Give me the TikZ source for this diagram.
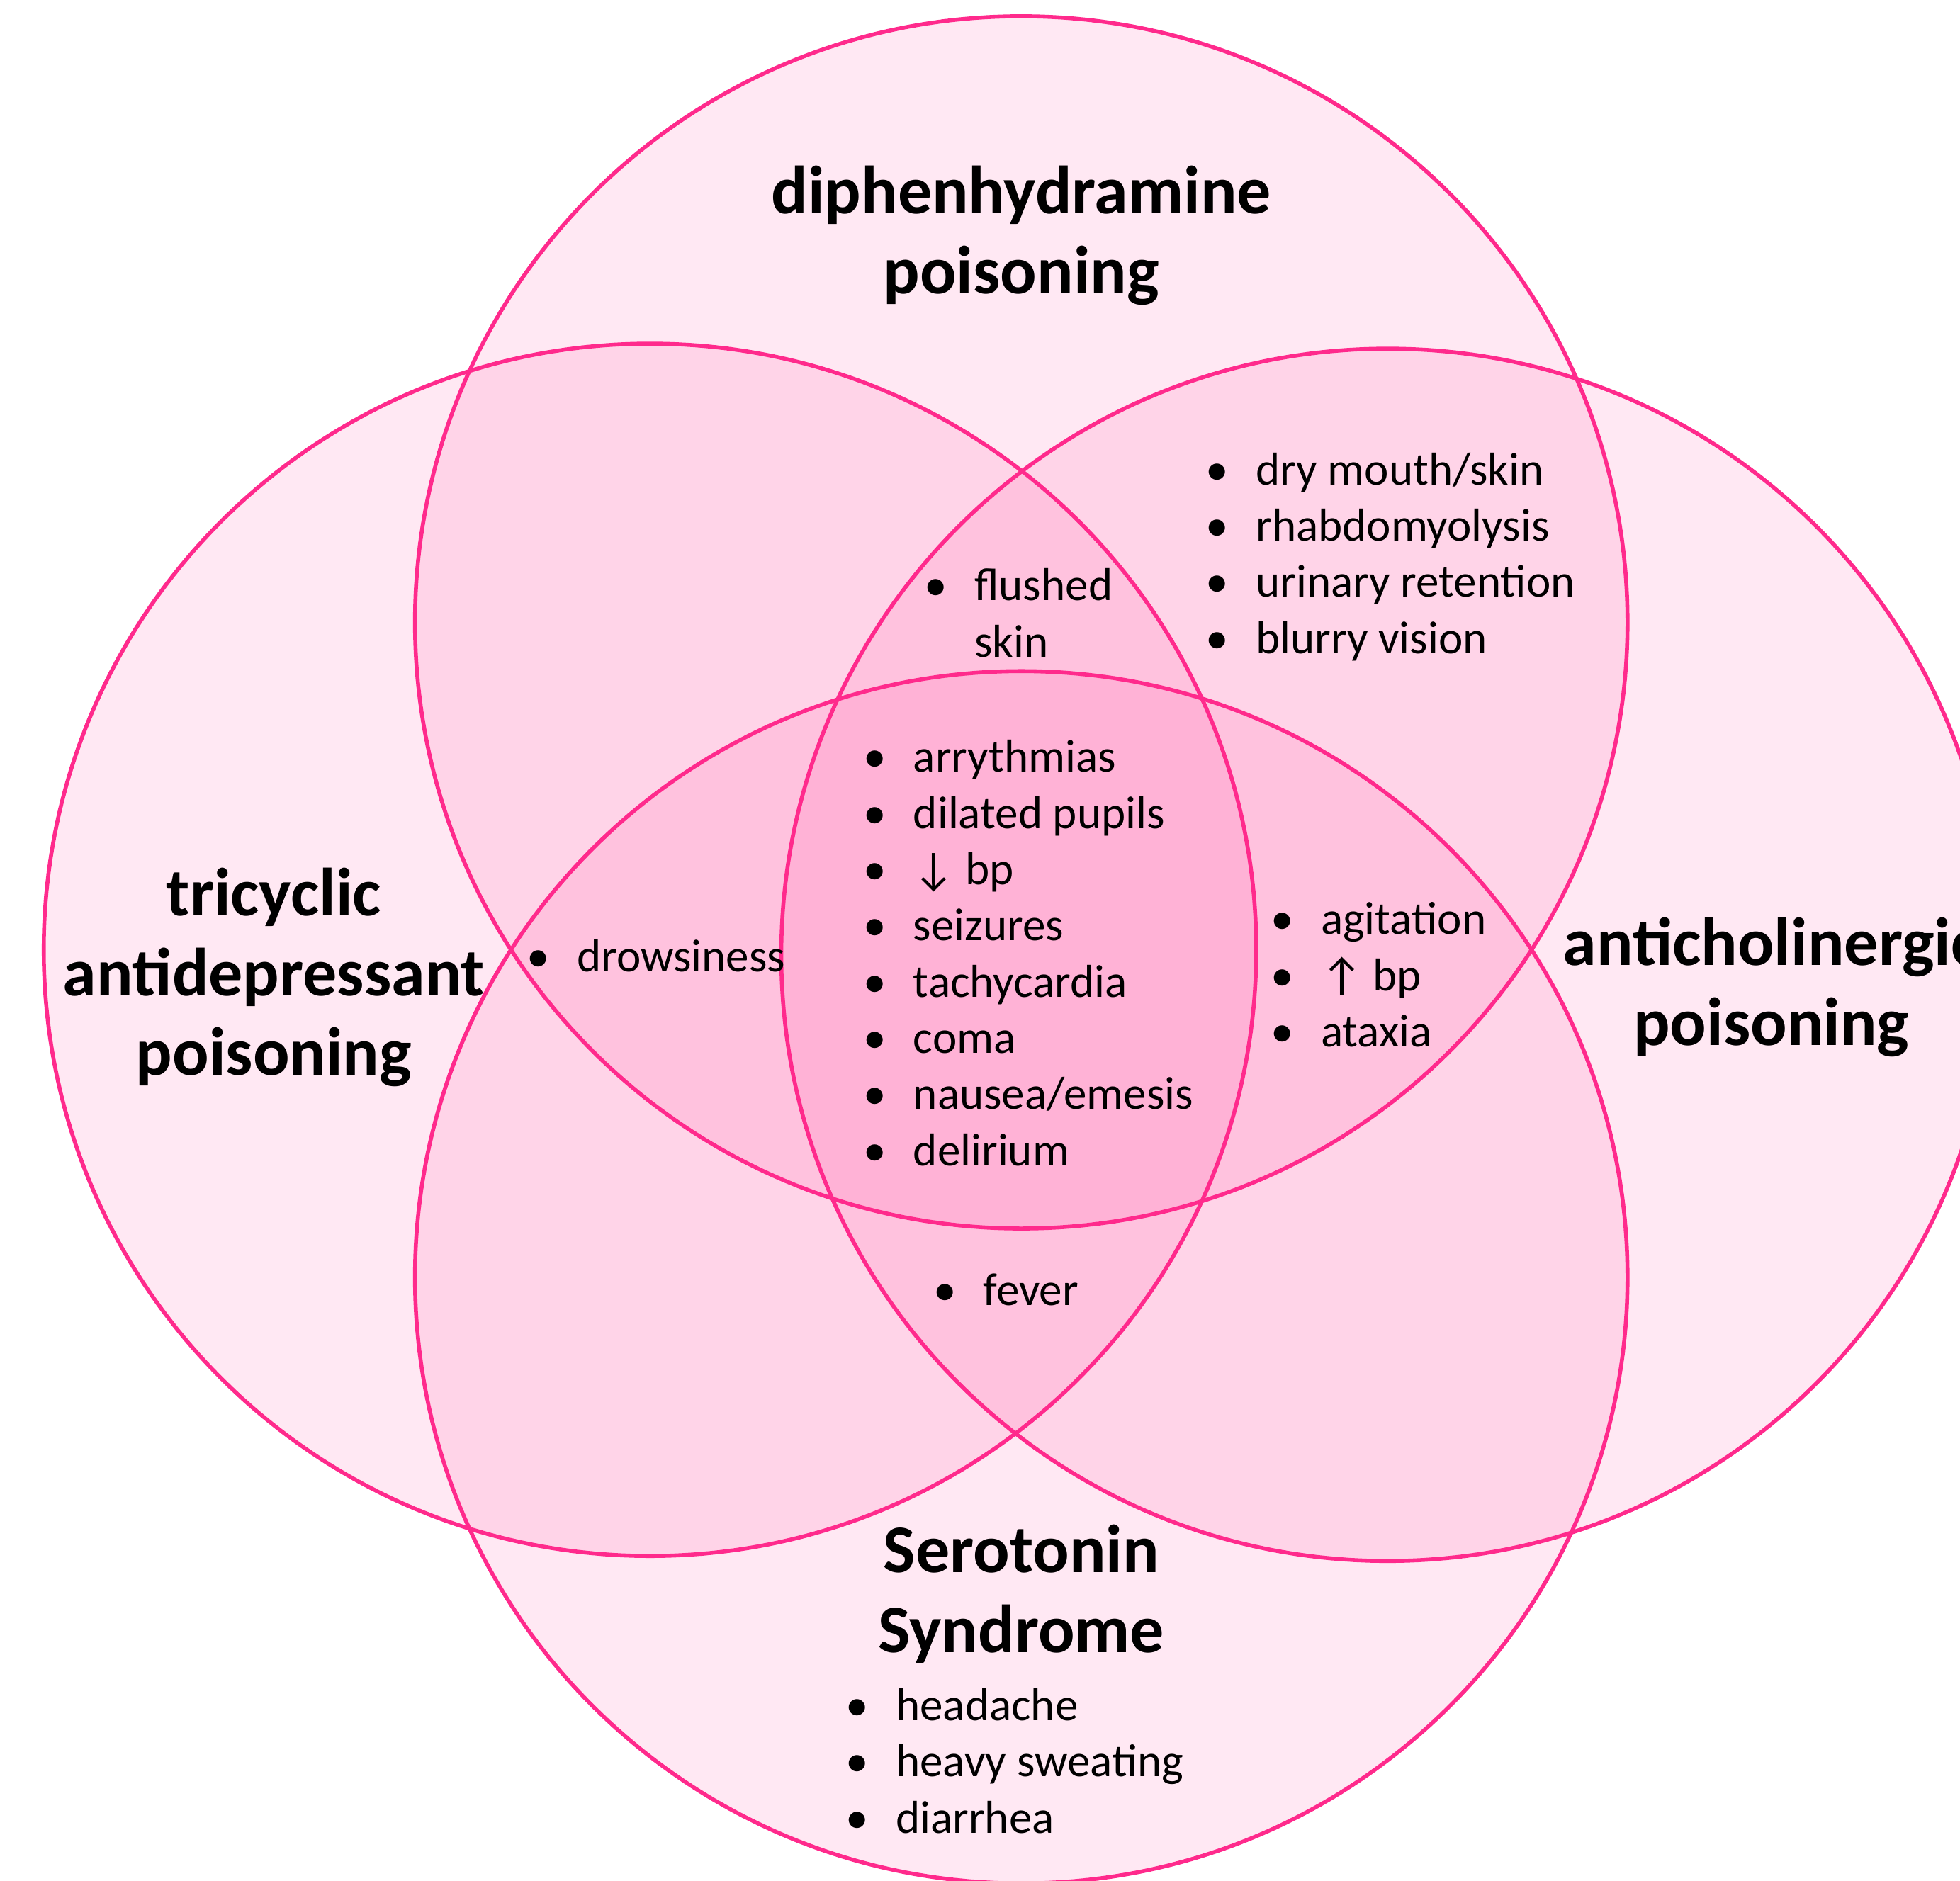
\documentclass[tikz,border=0pt]{standalone}
\usepackage{fontspec}
\setmainfont{Carlito}
\usetikzlibrary{positioning}
\definecolor{vennpink}{RGB}{255, 42, 140}

\newcommand{\bul}{\makebox[0.42cm][l]{\hspace{0.02cm}\textbullet}}

\tikzset{
  ring/.style={draw=vennpink, line width=0.9pt},
  blob/.style={fill=vennpink, fill opacity=0.105},
  heading/.style={font=\fontsize{15.5}{18.2}\selectfont\bfseries, align=center, inner sep=0pt},
  symlist/.style={font=\fontsize{10.5}{12.8}\selectfont, align=left, inner sep=0pt, anchor=west}
}

\begin{document}
\begin{tikzpicture}
  \useasboundingbox (0, 0) rectangle (15.68, -15.05);
  \clip (0, 0) rectangle (15.68, -15.05);

  % circle centres
  \coordinate (dph) at (8.17, -4.98);
  \coordinate (tca) at (5.20, -7.60);
  \coordinate (ach) at (11.10, -7.64);
  \coordinate (ss) at (8.17, -10.22);

  % fills first, then outlines
  \foreach \c in {dph, tca, ach, ss}
    \fill[blob] (\c) circle[radius=4.85cm];
  \foreach \c in {dph, tca, ach, ss}
    \draw[ring] (\c) circle[radius=4.85cm];

  % Headings
  \node[heading] (dphname) at (8.17, -1.885) {diphenhydramine\\poisoning};
  \node[heading] (tcaname) at (2.19, -7.82) {tricyclic\\antidepressant\\poisoning};
  \node[heading] (achname) at (14.17, -7.90) {anticholinergic\\poisoning};
  \node[heading] (ssname) at (8.17, -12.755) {Serotonin\\Syndrome};

  % Symptom lists
  \node[symlist] (allfour) at (6.88, -7.625) {\bul arrythmias\\ \bul dilated pupils\\ \bul ↓ bp\\ \bul seizures\\ \bul tachycardia\\ \bul coma\\ \bul nausea/emesis\\ \bul delirium};
  \node[symlist] (flush) at (7.37, -4.905) {\bul flushed\\ \hspace{0.42cm}skin};
  \node[symlist] (dryskin) at (9.62, -4.455) {\bul dry mouth/skin\\ \bul rhabdomyolysis\\ \bul urinary retention\\ \bul blurry vision};
  \node[symlist] (drowsy) at (4.19, -7.65) {\bul drowsiness};
  \node[symlist] (agit) at (10.14, -7.80) {\bul agitation\\ \bul ↑ bp\\ \bul ataxia};
  \node[symlist] (fev) at (7.44, -10.32) {\bul fever};
  \node[symlist] (sslist) at (6.74, -14.09) {\bul headache\\ \bul heavy sweating\\ \bul diarrhea};
\end{tikzpicture}
\end{document}
